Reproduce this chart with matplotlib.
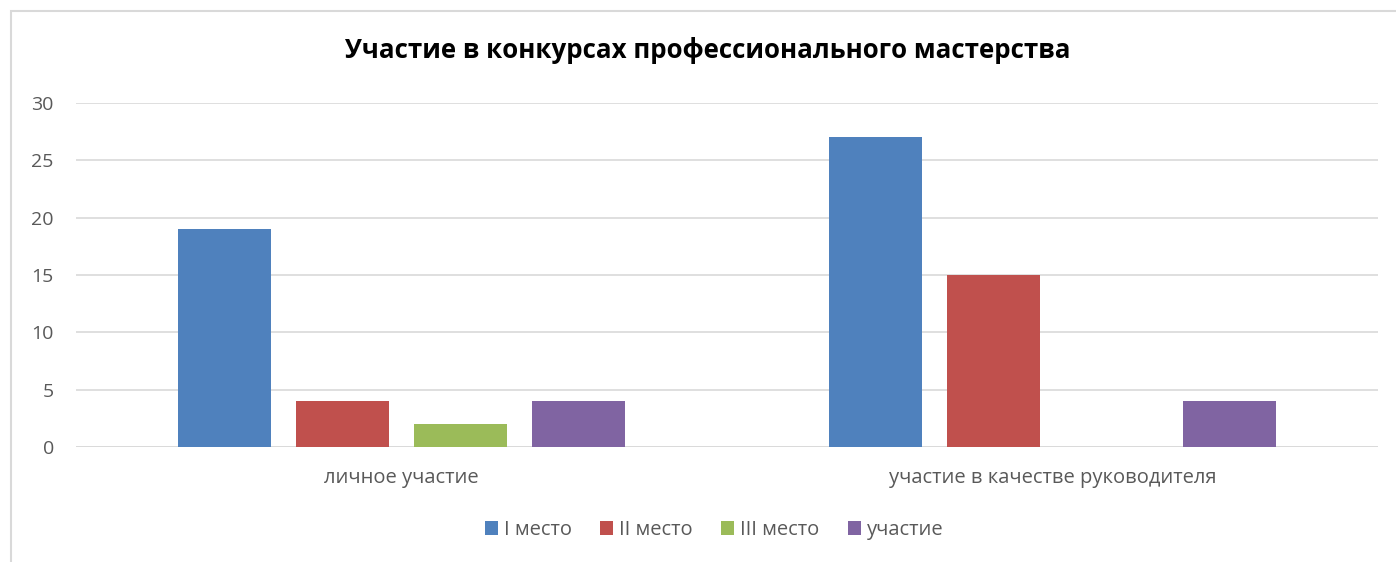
import numpy as np
import matplotlib.pyplot as plt
from matplotlib.patches import Rectangle

categories = ["личное участие", "участие в качестве руководителя"]
series = ["I место", "II место", "III место", "участие"]
values = [
    [19, 27],
    [4, 15],
    [2, 0],
    [4, 4],
]
colors = ["#4F81BD", "#C0504D", "#9BBB59", "#8064A2"]

plt.rcParams['font.family'] = ['Open Sans', 'DejaVu Sans']

fig = plt.figure(figsize=(13.96, 5.62), dpi=100)
ax = fig.add_axes([76/1396, 1-447/562, (1378-76)/1396, 344/562])

# chart border (left and top visible)
fig.patches.append(Rectangle((11/1396, -0.1), 1.2, 1-11/562+0.1, transform=fig.transFigure,
                             fill=False, edgecolor="#D9D9D9", linewidth=1.5))

x = np.arange(len(categories))
w = 0.143
step = 0.181
for i, (name, vals) in enumerate(zip(series, values)):
    ax.bar(x + (i - 1.5) * step, vals, width=w, color=colors[i], label=name, zorder=3)

ax.set_xlim(-0.5, 1.5)
ax.set_ylim(0, 30)
ax.set_yticks(range(0, 31, 5))
ax.yaxis.grid(True, color="#D9D9D9", linewidth=1.2, zorder=0)
for s in ax.spines.values():
    s.set_visible(False)
ax.axhline(0, color="#D9D9D9", linewidth=1.2, zorder=2)
ax.tick_params(length=0, labelcolor="#595959")
ax.tick_params(axis='y', pad=16, labelsize=14)
ax.set_xticks(x)
ax.set_xticklabels(categories)
ax.tick_params(axis='x', pad=15, labelsize=14.5)

fig.text(708/1396, 1-51/562, "Участие в конкурсах профессионального мастерства",
         ha="center", va="center", fontsize=18.6, fontweight="bold", color="black")

fig.legend(loc="center", bbox_to_anchor=(714/1396, 1-530/562), ncol=4, frameon=False,
           fontsize=14.5, labelcolor="#595959", handlelength=0.65, handleheight=0.65,
           handletextpad=0.3, columnspacing=1.4)

fig.savefig("out.png", dpi=100)
